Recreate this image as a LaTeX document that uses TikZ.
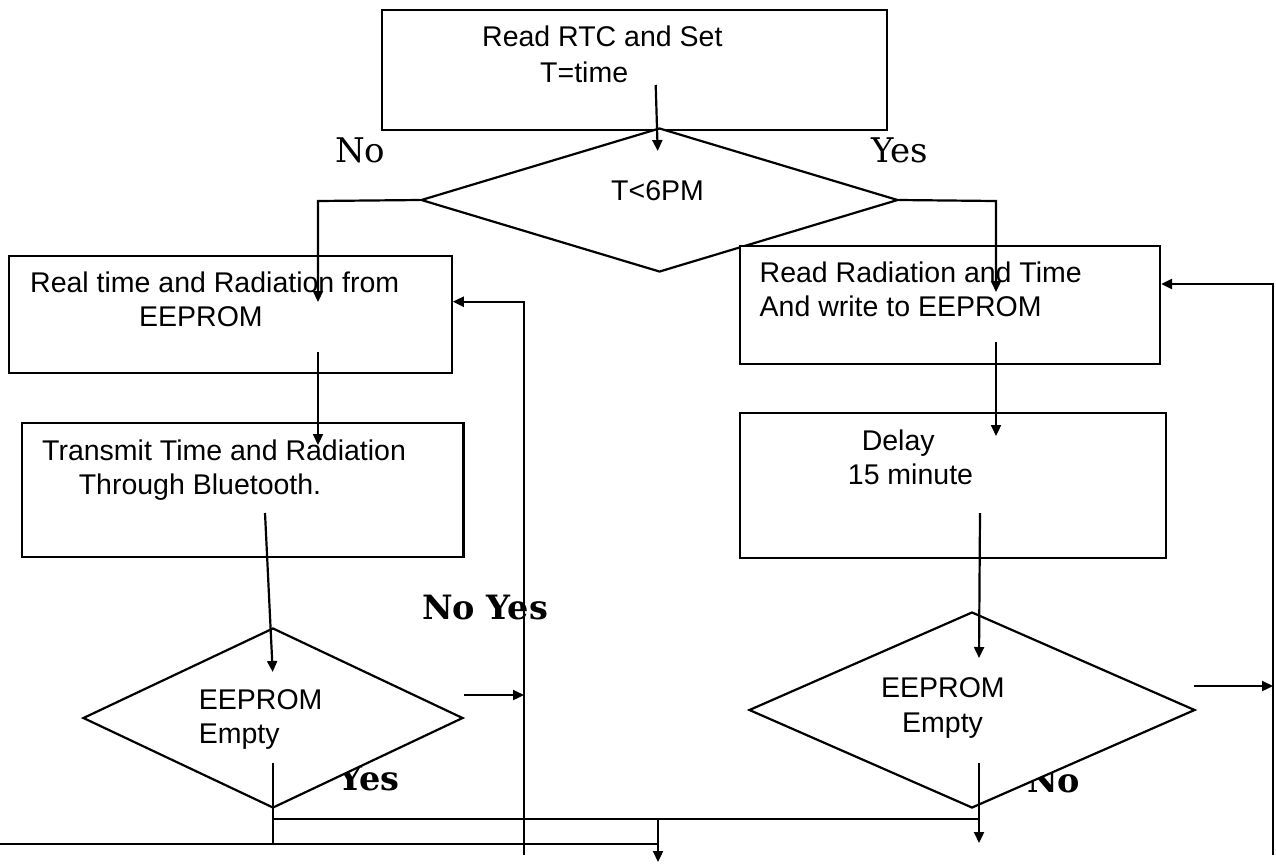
\documentclass[tikz,border=0pt]{standalone}
\usepackage{fontspec}
\setmainfont{Liberation Sans}
\newfontfamily\ynfont{DejaVu Serif}
\usetikzlibrary{shapes.geometric,arrows.meta}
\begin{document}
\begin{tikzpicture}[x=1pt,y=-1pt,
  lw/.style={line width=2.2pt},
  boxn/.style={draw,lw,fill=white,rectangle,inner sep=0pt},
  decn/.style={draw,lw,fill=white,diamond,inner sep=0pt},
  txt/.style={anchor=base west,inner sep=0pt,font=\fontsize{28.5}{30}\selectfont},
  yn/.style={anchor=base west,inner sep=0pt,font=\ynfont\fontsize{34}{36}\selectfont},
  ynb/.style={anchor=base west,inner sep=0pt,font=\ynfont\bfseries\fontsize{33.5}{35}\selectfont},
  conn/.style={lw},
  arr/.style={lw,-{Triangle[length=11pt,width=10pt]}}]
\useasboundingbox (0,0) rectangle (1276,863);
% branch labels
\node[yn] (lNo) at (335,162) {No};
\node[yn] (lYes) at (871,162) {Yes};
\node[ynb] (lNoYes) at (422,619) {No Yes};
\node[ynb] (lYesL) at (338,790) {Yes};
\node[ynb] (lNoR) at (1027,792) {No};
% shapes
\node[boxn,minimum width=505pt,minimum height=120pt] (tb) at (634.5,70) {};
\node[decn,minimum width=477pt,minimum height=144pt] (dT) at (659.5,200) {};
\node[boxn,minimum width=442.4pt,minimum height=117pt] (b1) at (230.5,314.5) {};
\node[boxn,minimum width=441.5pt,minimum height=134pt] (b2) at (242.75,490) {};
\node[boxn,minimum width=420pt,minimum height=118pt] (r1) at (950,304.6) {};
\node[boxn,minimum width=426pt,minimum height=145pt] (r2) at (953,485.7) {};
\node[decn,minimum width=380pt,minimum height=180pt] (dL) at (273,718) {};
\node[decn,minimum width=446pt,minimum height=196pt] (dR) at (972,710) {};
% texts
\node[txt] (t1a) at (482,46) {Read RTC and Set};
\node[txt] (t1b) at (540,82) {T=time};
\node[txt] (t2) at (611,200) {T<6PM};
\node[txt] (t3a) at (30,292) {Real time and Radiation from};
\node[txt] (t3b) at (139,326) {EEPROM};
\node[txt] (t4a) at (42,460) {Transmit Time and Radiation};
\node[txt] (t4b) at (78.6,494) {Through Bluetooth.};
\node[txt] (t5a) at (759.5,282) {Read Radiation and Time};
\node[txt] (t5b) at (759.5,316) {And write to EEPROM};
\node[txt] (t6a) at (861.6,450) {Delay};
\node[txt] (t6b) at (847.7,484) {15 minute};
\node[txt] (t7a) at (198.7,709) {EEPROM};
\node[txt] (t7b) at (198.7,743) {Empty};
\node[txt] (t8a) at (881,697) {EEPROM};
\node[txt] (t8b) at (902,732) {Empty};
% connector points
\coordinate (s1) at (655.7,85);
\coordinate (e1) at (657.7,151);
\coordinate (nL) at (318,201);
\coordinate (eL) at (318,302);
\coordinate (nR) at (996,201);
\coordinate (eR) at (996,292);
\coordinate (s4) at (318,352);
\coordinate (e4) at (318,445);
\coordinate (s5) at (265,513);
\coordinate (e5) at (272.7,672);
\coordinate (s6) at (464,695);
\coordinate (e6) at (524,695);
\coordinate (v1b) at (524,855);
\coordinate (v1t) at (524,301.7);
\coordinate (s8) at (996,342);
\coordinate (e8) at (996,436);
\coordinate (s9) at (980,513);
\coordinate (e9) at (979,658);
\coordinate (s10) at (1194,686);
\coordinate (e10) at (1273,686);
\coordinate (v2b) at (1273,855);
\coordinate (v2t) at (1273,284);
\coordinate (s12) at (273,763);
\coordinate (e12) at (273,844);
\coordinate (h1a) at (0,844);
\coordinate (h1b) at (658,844);
\coordinate (h2a) at (273,819);
\coordinate (h2b) at (979,819);
\coordinate (d1) at (658,819);
\coordinate (d2) at (658,862);
\coordinate (s14) at (979,763);
\coordinate (e14) at (979,843);
% connectors
\draw[arr] (s1) -- (e1);
\draw[arr] (dT.west) -- (nL) -- (eL);
\draw[arr] (dT.east) -- (nR) -- (eR);
\draw[arr] (s4) -- (e4);
\draw[arr] (s5) -- (e5);
\draw[arr] (s6) -- (e6);
\draw[arr] (v1b) -- (v1t) -- (b1.east |- v1t);
\draw[arr] (s8) -- (e8);
\draw[arr] (s9) -- (e9);
\draw[arr] (s10) -- (e10);
\draw[arr] (v2b) -- (v2t) -- (r1.east |- v2t);
\draw[conn] (s12) -- (e12);
\draw[conn] (h1a) -- (h1b);
\draw[conn] (h2a) -- (h2b);
\draw[arr] (d1) -- (d2);
\draw[arr] (s14) -- (e14);
\end{tikzpicture}
\end{document}
